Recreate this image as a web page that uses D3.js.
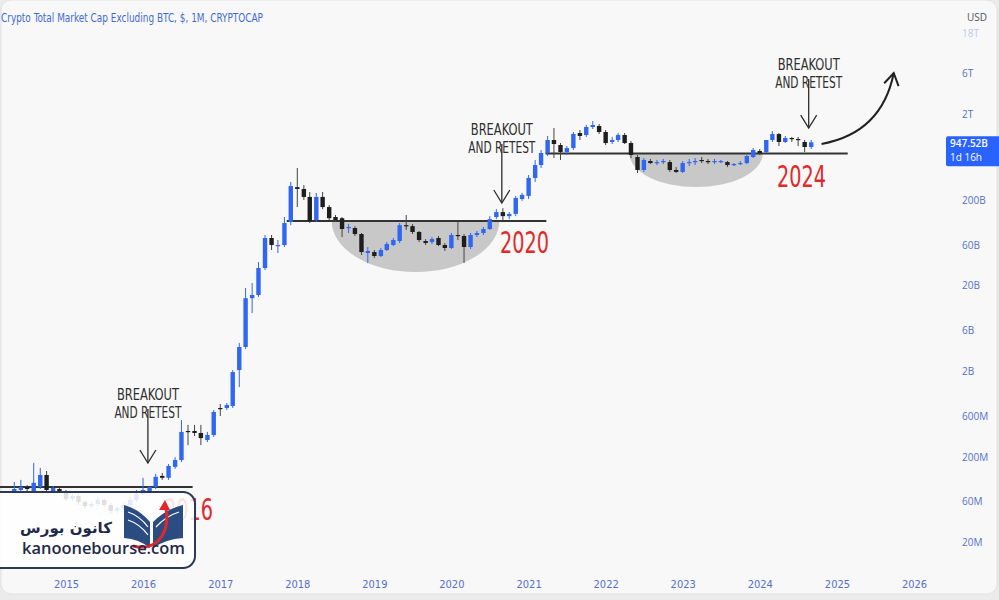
<!DOCTYPE html>
<html>
<head>
<meta charset="utf-8">
<script src="https://cdnjs.cloudflare.com/ajax/libs/d3/7.8.5/d3.min.js"></script>
<style>
  body { margin: 0; background: #ececec; }
  svg { display: block; }
</style>
</head>
<body>
<div id="chart"></div>
<script>

var title = 'Crypto Total Market Cap Excluding BTC, $, 1M, CRYPTOCAP';

//  monthly candles, billions of USD : [month, open, high, low, close]
var candles = [
    ['2014-05', 0.0779, 0.102, 0.0759, 0.0844],
    ['2014-06', 0.0822, 0.108, 0.0800, 0.0891],
    ['2014-07', 0.0891, 0.0938, 0.0800, 0.0844],
    ['2014-08', 0.0779, 0.170, 0.0759, 0.0997],
    ['2014-09', 0.0891, 0.149, 0.0844, 0.123],
    ['2014-10', 0.123, 0.137, 0.0779, 0.0822],
    ['2014-11', 0.0779, 0.0916, 0.0759, 0.0867],
    ['2014-12', 0.0844, 0.0867, 0.0759, 0.0779],
    ['2015-01', 0.0779, 0.0822, 0.0611, 0.0645],
    ['2015-02', 0.0645, 0.0738, 0.0611, 0.0700],
    ['2015-03', 0.0700, 0.0738, 0.0549, 0.0595],
    ['2015-04', 0.0595, 0.0628, 0.0506, 0.0534],
    ['2015-05', 0.0534, 0.0595, 0.0506, 0.0564],
    ['2015-06', 0.0564, 0.0681, 0.0534, 0.0628],
    ['2015-07', 0.0628, 0.0663, 0.0520, 0.0549],
    ['2015-08', 0.0549, 0.0580, 0.0431, 0.0467],
    ['2015-09', 0.0467, 0.0534, 0.0443, 0.0506],
    ['2015-10', 0.0506, 0.0580, 0.0480, 0.0549],
    ['2015-11', 0.0549, 0.0681, 0.0520, 0.0628],
    ['2015-12', 0.0628, 0.0822, 0.0595, 0.0738],
    ['2016-01', 0.0738, 0.114, 0.0718, 0.0822],
    ['2016-02', 0.0800, 0.0916, 0.0779, 0.0891],
    ['2016-03', 0.0891, 0.127, 0.0844, 0.117],
    ['2016-04', 0.120, 0.130, 0.108, 0.114],
    ['2016-05', 0.114, 0.165, 0.108, 0.157],
    ['2016-06', 0.153, 0.199, 0.145, 0.184],
    ['2016-07', 0.184, 0.540, 0.174, 0.392],
    ['2016-08', 0.402, 0.473, 0.275, 0.392],
    ['2016-09', 0.402, 0.473, 0.351, 0.381],
    ['2016-10', 0.381, 0.473, 0.275, 0.332],
    ['2016-11', 0.315, 0.392, 0.299, 0.361],
    ['2016-12', 0.361, 0.707, 0.342, 0.670],
    ['2017-01', 0.746, 0.831, 0.602, 0.726],
    ['2017-02', 0.746, 0.854, 0.707, 0.809],
    ['2017-03', 0.787, 2.07, 0.746, 1.96],
    ['2017-04', 2.07, 4.29, 1.31, 3.85],
    ['2017-05', 3.85, 18.8, 3.65, 14.3],
    ['2017-06', 14.3, 21.5, 9.60, 15.6],
    ['2017-07', 15.6, 37.8, 14.8, 32.2],
    ['2017-08', 32.2, 78.3, 30.5, 72.2],
    ['2017-09', 72.2, 78.3, 52.3, 59.8],
    ['2017-10', 58.2, 68.4, 48.2, 59.8],
    ['2017-11', 59.8, 127, 56.7, 108],
    ['2017-12', 111, 326, 102, 292],
    ['2018-01', 284, 475, 166, 270],
    ['2018-02', 270, 300, 201, 218],
    ['2018-03', 218, 249, 108, 114],
    ['2018-04', 117, 243, 111, 218],
    ['2018-05', 218, 249, 157, 166],
    ['2018-06', 166, 175, 117, 123],
    ['2018-07', 127, 134, 111, 117],
    ['2018-08', 123, 127, 74.2, 92.0],
    ['2018-09', 94.5, 105, 82.6, 97.1],
    ['2018-10', 94.5, 99.3, 76.2, 80.4],
    ['2018-11', 80.4, 82.6, 45.7, 49.5],
    ['2018-12', 48.2, 56.7, 36.9, 50.9],
    ['2019-01', 49.5, 52.3, 42.2, 44.5],
    ['2019-02', 44.5, 55.2, 43.3, 52.3],
    ['2019-03', 52.3, 64.8, 50.9, 61.4],
    ['2019-04', 59.8, 72.2, 58.2, 68.4],
    ['2019-05', 66.6, 108, 63.1, 102],
    ['2019-06', 102, 134, 89.6, 99.3],
    ['2019-07', 99.3, 105, 80.4, 84.9],
    ['2019-08', 84.9, 87.2, 64.8, 68.4],
    ['2019-09', 66.6, 70.2, 59.8, 63.1],
    ['2019-10', 64.8, 74.2, 61.4, 70.2],
    ['2019-11', 72.2, 76.2, 58.2, 59.8],
    ['2019-12', 59.8, 63.1, 50.9, 55.2],
    ['2020-01', 55.2, 82.6, 53.7, 78.3],
    ['2020-02', 78.3, 111, 68.4, 76.2],
    ['2020-03', 76.2, 80.4, 36.9, 56.7],
    ['2020-04', 56.7, 82.6, 53.7, 78.3],
    ['2020-05', 78.3, 87.2, 74.2, 82.6],
    ['2020-06', 82.6, 97.1, 78.3, 92.0],
    ['2020-07', 92.0, 130, 89.6, 120],
    ['2020-08', 127, 157, 120, 145],
    ['2020-09', 145, 161, 114, 130],
    ['2020-10', 130, 145, 120, 138],
    ['2020-11', 138, 224, 130, 212],
    ['2020-12', 206, 243, 196, 230],
    ['2021-01', 224, 393, 206, 363],
    ['2021-02', 363, 589, 326, 514],
    ['2021-03', 514, 770, 474, 710],
    ['2021-04', 710, 1122, 655, 1008],
    ['2021-05', 1008, 1392, 621, 905],
    ['2021-06', 881, 929, 589, 730],
    ['2021-07', 730, 858, 673, 812],
    ['2021-08', 812, 1250, 770, 1184],
    ['2021-09', 1216, 1319, 1008, 1123],
    ['2021-10', 1153, 1509, 1094, 1430],
    ['2021-11', 1430, 1681, 1355, 1509],
    ['2021-12', 1469, 1550, 1184, 1250],
    ['2022-01', 1250, 1319, 881, 929],
    ['2022-02', 956, 1094, 905, 1008],
    ['2022-03', 1008, 1216, 956, 1153],
    ['2022-04', 1153, 1216, 905, 929],
    ['2022-05', 929, 981, 621, 673],
    ['2022-06', 638, 673, 415, 450],
    ['2022-07', 450, 621, 427, 589],
    ['2022-08', 573, 605, 528, 542],
    ['2022-09', 542, 589, 514, 557],
    ['2022-10', 557, 605, 528, 573],
    ['2022-11', 557, 589, 427, 450],
    ['2022-12', 450, 487, 415, 427],
    ['2023-01', 427, 573, 415, 542],
    ['2023-02', 542, 605, 500, 557],
    ['2023-03', 557, 621, 514, 573],
    ['2023-04', 589, 638, 542, 573],
    ['2023-05', 573, 605, 528, 557],
    ['2023-06', 557, 605, 528, 573],
    ['2023-07', 557, 589, 542, 573],
    ['2023-08', 557, 573, 487, 514],
    ['2023-09', 514, 542, 500, 528],
    ['2023-10', 528, 573, 514, 542],
    ['2023-11', 542, 673, 528, 655],
    ['2023-12', 638, 812, 621, 770],
    ['2024-01', 750, 791, 673, 710],
    ['2024-02', 730, 1008, 710, 1008],
    ['2024-03', 1008, 1284, 956, 1184],
    ['2024-04', 1184, 1216, 858, 956],
    ['2024-05', 956, 1123, 929, 1063],
    ['2024-06', 1063, 1094, 956, 1036],
    ['2024-07', 1036, 1094, 858, 1008],
    ['2024-08', 956, 1008, 730, 835],
    ['2024-09', 835, 1008, 791, 947.52]
];

var priceTicks = [20e6, 60e6, 200e6, 600e6, 2e9, 6e9, 20e9, 60e9, 200e9, 2e12, 6e12, 18e12];
var priceTickLabels = ['20M', '60M', '200M', '600M', '2B', '6B', '20B', '60B', '200B', '2T', '6T', '18T'];
var yearTicks = [2015, 2016, 2017, 2018, 2019, 2020, 2021, 2022, 2023, 2024, 2025, 2026];

var lastPrice = 947.52;   // B
var lastPriceLabel = '947.52B';
var countdown = '1d 16h';

//  breakout levels, billions
var levels = [
    { from: '2014-02-20', to: '2016-08-23', value: 0.0891 },
    { from: '2017-11-12', to: '2021-03-26', value: 114 },
    { from: '2021-03-22', to: '2025-02-21', value: 702 }
];

var cups = [
    { from: '2018-06-13', to: '2020-08-15', level: 114, bottom: 28.9 },
    { from: '2022-04-24', to: '2024-01-15', level: 702, bottom: 285 }
];

var notes = [
    { date: '2016-01-24', label: 0.570, tip: 0.170 },
    { date: '2020-08-27', label: 711, tip: 185 },
    { date: '2024-08-20', label: 4080, tip: 1390 }
];

var yearMarks = [
    { text: '2016', date: '2016-08-04', value: 0.0367 },
    { text: '2020', date: '2020-12-13', value: 48.2 },
    { text: '2024', date: '2024-07-17', value: 285 }
];

var projection = [['2024-10-20', 906], ['2025-08-01', 1217], ['2025-09-27', 6110]];


var W = 999, H = 600;
var narrow = "'Liberation Sans Narrow', 'DejaVu Sans Condensed', 'Arial Narrow', sans-serif";
var colors = { up: '#2f66f2', down: '#1e1e1e', axis: '#5470cc', red: '#e0292b', ink: '#2e2e2e' };

function parseDate(s) {
    return s.length === 7 ? d3.utcParse('%Y-%m')(s) : d3.utcParse('%Y-%m-%d')(s);
}

var x = d3.scaleUtc()
    .domain([Date.UTC(2015, 0, 1), Date.UTC(2026, 0, 1)])
    .range([66, 914]);

var y = d3.scaleLog()
    .domain([1e7, 1e13])
    .range([568.3, 54.7]);

function yb(v) { return y(v * 1e9); }

var svg = d3.select('#chart').append('svg')
    .attr('width', W)
    .attr('height', H);

svg.append('rect').attr('width', W).attr('height', H).attr('fill', '#ebebeb');

svg.append('rect')
    .attr('x', 1).attr('y', 0)
    .attr('width', W - 3).attr('height', H - 6)
    .attr('rx', 10)
    .attr('fill', '#f8f8f8')
    .attr('stroke', '#e2e2e2');

var plot = svg.append('g');

//  cups
plot.selectAll('.cup')
    .data(cups)
    .enter().append('path')
    .attr('class', 'cup')
    .attr('fill', '#bcbcbc')
    .attr('opacity', 0.8)
    .attr('d', function(d) {
        var x1 = x(parseDate(d.from)), x2 = x(parseDate(d.to));
        var yl = yb(d.level), ry = yb(d.bottom) - yl;
        return 'M' + x1 + ',' + yl + ' A' + (x2 - x1) / 2 + ',' + ry + ' 0 0 0 ' + x2 + ',' + yl + ' Z';
    });

//  levels
plot.selectAll('.level')
    .data(levels)
    .enter().append('line')
    .attr('class', 'level')
    .attr('x1', function(d) { return x(parseDate(d.from)); })
    .attr('x2', function(d) { return x(parseDate(d.to)); })
    .attr('y1', function(d) { return yb(d.value); })
    .attr('y2', function(d) { return yb(d.value); })
    .attr('stroke', '#333')
    .attr('stroke-width', 2);

//  candles
var bodyW = 4.4;

var candle = plot.selectAll('.candle')
    .data(candles)
    .enter().append('g')
    .attr('class', 'candle')
    .attr('transform', function(d) { return 'translate(' + x(parseDate(d[0])) + ',0)'; });

candle.append('line')
    .attr('y1', function(d) { return yb(d[2]); })
    .attr('y2', function(d) { return yb(d[3]); })
    .attr('stroke', function(d) { return d[4] >= d[1] ? colors.up : '#444'; })
    .attr('stroke-width', 1);

candle.append('rect')
    .attr('x', -bodyW / 2)
    .attr('width', bodyW)
    .attr('y', function(d) { return Math.min(yb(d[1]), yb(d[4])); })
    .attr('height', function(d) { return Math.max(1.2, Math.abs(yb(d[1]) - yb(d[4]))); })
    .attr('fill', function(d) { return d[4] >= d[1] ? colors.up : colors.down; });

//  breakout notes
var note = plot.selectAll('.note')
    .data(notes)
    .enter().append('g')
    .attr('class', 'note')
    .attr('transform', function(d) { return 'translate(' + x(parseDate(d.date)) + ',0)'; });

note.append('text')
    .attr('y', function(d) { return yb(d.label) - 18; })
    .attr('text-anchor', 'middle')
    .attr('textLength', 62)
    .attr('lengthAdjust', 'spacingAndGlyphs')
    .style('font', '16px ' + narrow)
    .attr('fill', colors.ink)
    .text('BREAKOUT');

note.append('text')
    .attr('y', function(d) { return yb(d.label); })
    .attr('text-anchor', 'middle')
    .attr('textLength', 67)
    .attr('lengthAdjust', 'spacingAndGlyphs')
    .style('font', '16px ' + narrow)
    .attr('fill', colors.ink)
    .text('AND RETEST');

note.append('line')
    .attr('y1', function(d) { return yb(d.label) - 9; })
    .attr('y2', function(d) { return yb(d.tip); })
    .attr('stroke', colors.ink)
    .attr('stroke-width', 1.3);

note.append('path')
    .attr('d', function(d) {
        var t = yb(d.tip);
        return 'M-8,' + (t - 13) + ' L0,' + t + ' L8,' + (t - 13);
    })
    .attr('fill', 'none')
    .attr('stroke', colors.ink)
    .attr('stroke-width', 1.3);

//  projected move
var pts = projection.map(function(p) { return [x(parseDate(p[0])), yb(p[1])]; });

plot.append('path')
    .attr('d', 'M' + pts[0] + ' Q' + pts[1] + ' ' + pts[2])
    .attr('fill', 'none')
    .attr('stroke', '#222')
    .attr('stroke-width', 2);

var ang = Math.atan2(pts[2][1] - pts[1][1], pts[2][0] - pts[1][0]);
var head = [ang + Math.PI - 0.55, ang + Math.PI + 0.55].map(function(a) {
    return [pts[2][0] + 14 * Math.cos(a), pts[2][1] + 14 * Math.sin(a)];
});

plot.append('path')
    .attr('d', 'M' + head[0] + ' L' + pts[2] + ' L' + head[1])
    .attr('fill', 'none')
    .attr('stroke', '#222')
    .attr('stroke-width', 2);

//  big red years
plot.selectAll('.year-mark')
    .data(yearMarks)
    .enter().append('text')
    .attr('class', 'year-mark')
    .attr('x', function(d) { return x(parseDate(d.date)); })
    .attr('y', function(d) { return yb(d.value); })
    .attr('text-anchor', 'middle')
    .attr('textLength', 49)
    .attr('lengthAdjust', 'spacingAndGlyphs')
    .style('font', '31px ' + narrow)
    .attr('fill', colors.red)
    .text(function(d) { return d.text; });

//  logo box
var logo = svg.append('g');

logo.append('rect')
    .attr('x', -14).attr('y', 492)
    .attr('width', 209).attr('height', 76)
    .attr('rx', 12)
    .attr('fill', '#ffffff')
    .attr('fill-opacity', 0.86)
    .attr('stroke', '#2b3856')
    .attr('stroke-width', 2);

logo.append('path')
    .attr('d', 'M150,548 L150,522 Q139,509 124,505 L124,538 Q139,539 150,548 Z')
    .attr('fill', '#2b4c80');

logo.append('path')
    .attr('d', 'M153,548 L153,522 Q166,509 183,505 L183,538 Q166,539 153,548 Z')
    .attr('fill', '#2b4c80');

logo.append('path')
    .attr('d', 'M128,512 Q140,516 148,527 M128,520 Q140,524 148,535 M179,512 Q166,516 156,527')
    .attr('fill', 'none')
    .attr('stroke', '#ffffff')
    .attr('stroke-width', 1.2);

logo.append('path')
    .attr('d', 'M133,546 Q152,551 162,536 Q170,522 165,505')
    .attr('fill', 'none')
    .attr('stroke', '#e4262a')
    .attr('stroke-width', 3);

logo.append('path')
    .attr('d', 'M159,510 L165,500 L170,510 Z')
    .attr('fill', '#e4262a');

logo.append('text')
    .attr('x', 66).attr('y', 533)
    .attr('text-anchor', 'middle')
    .style('font', 'bold 15px "DejaVu Sans", sans-serif')
    .attr('fill', '#1e2a48')
    .text('کانون بورس');

logo.append('text')
    .attr('x', 22).attr('y', 554)
    .attr('textLength', 163)
    .attr('lengthAdjust', 'spacingAndGlyphs')
    .style('font', '600 17px "Open Sans", sans-serif')
    .attr('fill', '#1e2a48')
    .text('kanoonebourse.com');

//  title
svg.append('text')
    .attr('x', 1).attr('y', 22)
    .attr('textLength', 262)
    .attr('lengthAdjust', 'spacingAndGlyphs')
    .style('font', '13px ' + narrow)
    .attr('fill', '#3f6ad6')
    .text(title);

//  axes
var yAxis = svg.append('g')
    .attr('transform', 'translate(956,0)')
    .call(d3.axisRight(y)
        .tickValues(priceTicks)
        .tickFormat(function(d, i) { return priceTickLabels[i]; })
        .tickSize(0)
        .tickPadding(6));

yAxis.select('.domain').remove();
yAxis.selectAll('text')
    .style('font', '10px "Open Sans", sans-serif')
    .attr('fill', colors.axis)
    .attr('opacity', function(d) { return d > 1e13 ? 0.35 : 1; });

var xAxis = svg.append('g')
    .attr('transform', 'translate(0,576)')
    .call(d3.axisBottom(x)
        .tickValues(yearTicks.map(function(yr) { return new Date(Date.UTC(yr, 0, 1)); }))
        .tickFormat(d3.utcFormat('%Y'))
        .tickSize(0)
        .tickPadding(4));

xAxis.select('.domain').remove();
xAxis.selectAll('text')
    .style('font', '11px ' + narrow)
    .attr('fill', colors.axis);

svg.append('text')
    .attr('x', 967).attr('y', 21)
    .style('font', '10px "Open Sans", sans-serif')
    .attr('fill', '#555')
    .text('USD');

//  last price tag
var py = yb(lastPrice);

svg.append('rect')
    .attr('x', 946).attr('y', py - 6)
    .attr('width', 56).attr('height', 30)
    .attr('rx', 2)
    .attr('fill', '#2962ff');

svg.append('text')
    .attr('x', 950).attr('y', py + 5)
    .style('font', '600 10px "Open Sans", sans-serif')
    .attr('fill', '#fff')
    .text(lastPriceLabel);

svg.append('text')
    .attr('x', 950).attr('y', py + 19)
    .style('font', '10px "Open Sans", sans-serif')
    .attr('fill', '#fff')
    .text(countdown);

</script>
</body>
</html>
